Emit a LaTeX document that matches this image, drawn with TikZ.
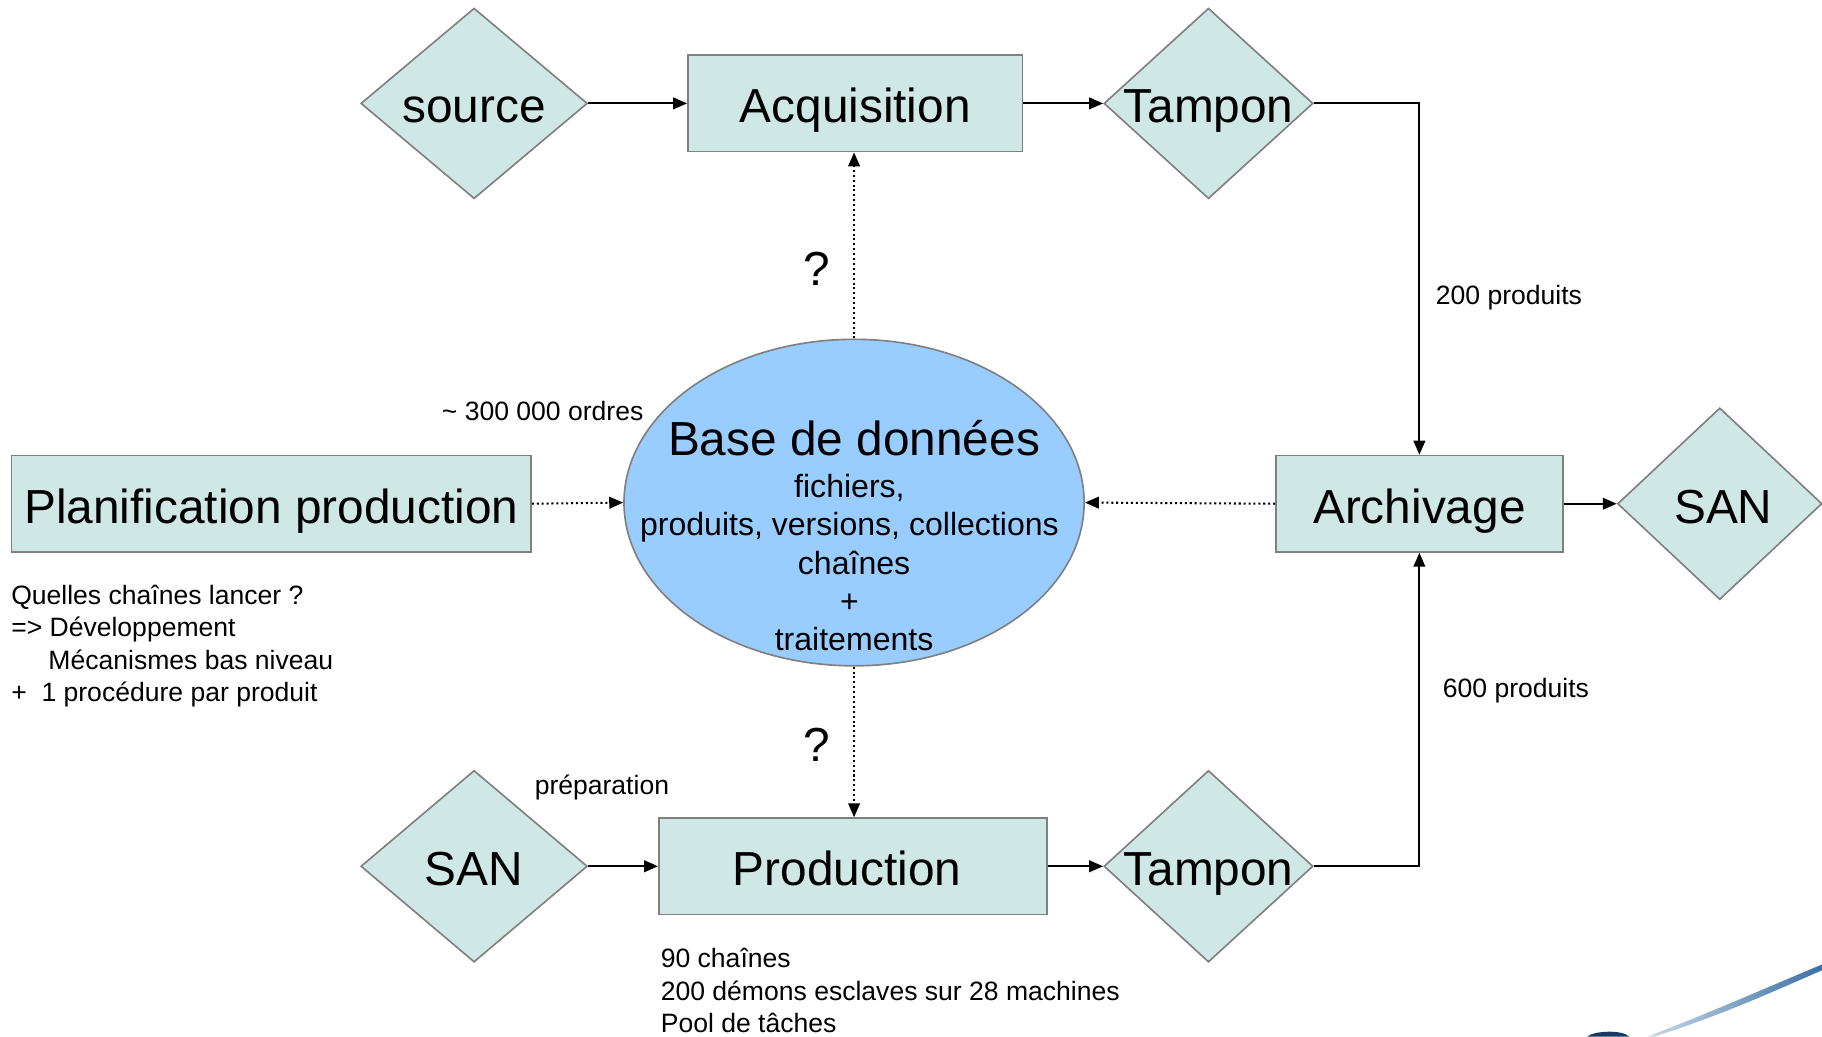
\documentclass[tikz,border=0pt]{standalone}
\usepackage{fontspec}
\setmainfont{Liberation Sans}
\usetikzlibrary{positioning, shapes.geometric, arrows.meta}

\definecolor{boxfill}{HTML}{CFE7E5}
\definecolor{bdfill}{HTML}{99CCFF}
\definecolor{edge}{HTML}{808080}
\definecolor{swlight}{HTML}{C8D9E8}
\definecolor{swdark}{HTML}{3C70A4}
\definecolor{navy}{HTML}{173A60}

\begin{document}
\begin{tikzpicture}[
  big/.style={font=\fontsize{11.7}{14}\selectfont},
  small/.style={font=\fontsize{6.5}{7.9}\selectfont},
  proc/.style={draw=edge, fill=boxfill, line width=0.4pt, minimum height=0.83cm,
               inner sep=0pt, text height=0.334cm, text depth=0pt, big},
  store/.style={diamond, draw=edge, fill=boxfill, line width=0.4pt, inner sep=0pt,
                minimum width=1.80cm, minimum height=1.64cm,
                text height=0.334cm, text depth=0pt, big},
  dbase/.style={ellipse, draw=edge, fill=bdfill, line width=0.4pt,
                minimum width=3.96cm, minimum height=2.81cm},
  note/.style={small, align=left, inner sep=0pt},
  link/.style={-{Triangle[length=1.2mm, width=1mm]}, line width=0.5pt},
  query/.style={link, dash pattern=on 0.5pt off 0.7pt},
]
\useasboundingbox (0,0) rectangle (15.68,-8.92);

% chaine d'acquisition
\node[store, minimum width=1.95cm] (src) at (4.08,-0.89) {\makebox[0pt]{source}};
\node[proc, minimum width=2.88cm] (acq) at (7.36,-0.89) {Acquisition};
\node[store] (tp1) at (10.40,-0.89) {\makebox[0pt]{Tampon}};

% centre
\node[proc, minimum width=4.47cm] (plan) at (2.335,-4.335) {Planification production};
\node[dbase] (bd) at (7.35,-4.325) {};
\node[align=center, inner sep=0pt, font=\fontsize{7.85}{9.4}\selectfont] (bdt) at (7.35,-4.61)
    {{\fontsize{11.7}{14}\selectfont Base de données}\\[0.03cm]fichiers,\hspace*{0.08cm}\null\\
     produits, versions, collections\hspace*{0.08cm}\null\\chaînes\\+\hspace*{0.08cm}\null\\traitements};
\node[proc, minimum width=2.47cm] (arc) at (12.215,-4.335) {Archivage};
\node[store, minimum width=1.76cm, minimum height=1.65cm] (san1) at (14.80,-4.335) {\makebox[0pt]{\hspace*{0.06cm}SAN}};

% chaine de production
\node[store, minimum width=1.95cm, minimum height=1.65cm] (san2) at (4.08,-7.455) {\makebox[0pt]{SAN}};
\node[proc, minimum width=3.34cm] (prod) at (7.34,-7.455) {Production\hspace*{0.1cm}\null};
\node[store, minimum height=1.65cm] (tp2) at (10.40,-7.455) {\makebox[0pt]{Tampon}};

% annotations
\node[small] (ordres) at (4.67,-3.54) {\textasciitilde{} 300 000 ordres};
\node[big] (q1) at (7.03,-2.31) {?};
\node[big] (q2) at (7.03,-6.41) {?};
\node[small, anchor=west, inner sep=0pt] (p200) at (12.35,-2.56) {200 produits};
\node[small, anchor=west, inner sep=0pt] (p600) at (12.41,-5.94) {600 produits};
\node[small] (prep) at (5.18,-6.78) {préparation};
\node[note, anchor=west] (choix) at (0.09,-5.56)
    {Quelles chaînes lancer ?\\=> Développement\\\hspace*{0.32cm}Mécanismes bas niveau\\+\ \ 1 procédure par produit};
\node[note, anchor=west] (prodinfo) at (5.68,-8.525)
    {90 chaînes\\200 démons esclaves sur 28 machines\\Pool de tâches};

\draw[link] (src) -- (acq);
\draw[link] (acq) -- (tp1);
\draw[link] (tp1.east) -| (arc.north);
\draw[link] (arc) -- (san1);
\draw[link] (san2) -- (prod);
\draw[link] (prod) -- (tp2);
\draw[link] (tp2.east) -| (arc.south);
\draw[query] (plan.east) -- (bd.west);
\draw[query] (arc.west) -- (bd.east);
\draw[query] (bd.north) -- (bd.north |- acq.south);
\draw[query] (bd.south) -- (bd.south |- prod.north);

% logo (coin)
\shade[left color=swlight, right color=swdark] (14.18,-8.92) .. controls (14.8,-8.68) and (15.2,-8.5) .. (15.68,-8.30)
    -- (15.68,-8.35) .. controls (15.2,-8.56) and (14.8,-8.74) .. (14.24,-8.92) -- cycle;
\fill[navy] (13.66,-8.92) .. controls (13.72,-8.87) and (13.96,-8.86) .. (14.02,-8.92) -- cycle;
\end{tikzpicture}
\end{document}
